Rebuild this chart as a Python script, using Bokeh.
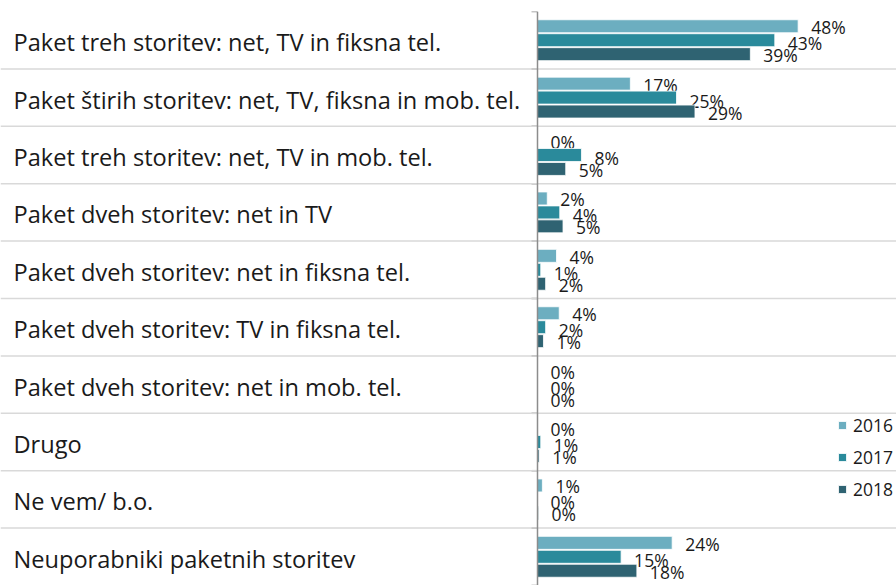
from bokeh.plotting import figure
from bokeh.models import ColumnDataSource, Range1d, FactorRange, Span, Legend, LegendItem
from bokeh.transform import dodge
from bokeh.core.properties import value
from bokeh.embed import file_html
from bokeh.resources import INLINE

categories = [
    "Paket treh storitev: net, TV in fiksna tel.",
    "Paket štirih storitev: net, TV, fiksna in mob. tel.",
    "Paket treh storitev: net, TV in mob. tel.",
    "Paket dveh storitev: net in TV",
    "Paket dveh storitev: net in fiksna tel.",
    "Paket dveh storitev: TV in fiksna tel.",
    "Paket dveh storitev: net in mob. tel.",
    "Drugo",
    "Ne vem/ b.o.",
    "Neuporabniki paketnih storitev",
]
years = ["2016", "2017", "2018"]
v2016 = [48.0, 17.1, 0.0, 1.8, 3.5, 4.0, 0.0, 0.0, 0.9, 24.8]
v2017 = [43.7, 25.6, 8.1, 4.1, 0.6, 1.5, 0.0, 0.6, 0.0, 15.4]
v2018 = [39.2, 29.0, 5.2, 4.7, 1.5, 1.1, 0.0, 0.3, 0.2, 18.3]
l2016 = ["48%", "17%", "0%", "2%", "4%", "4%", "0%", "0%", "1%", "24%"]
l2017 = ["43%", "25%", "8%", "4%", "1%", "2%", "0%", "1%", "0%", "15%"]
l2018 = ["39%", "29%", "5%", "5%", "2%", "1%", "0%", "1%", "0%", "18%"]

colors = {"2016": "#6CAEC0", "2017": "#2A8A9B", "2018": "#2F6372"}
offsets = {"2016": 0.243, "2017": 0.0, "2018": -0.243}
label_dy = {"2016": 1, "2017": 3, "2018": 1}

src = ColumnDataSource(dict(cat=categories,
                            v2016=v2016, v2017=v2017, v2018=v2018,
                            l2016=l2016, l2017=l2017, l2018=l2018))

FONT = "Open Sans"
W, H = 896, 585
px_per = 5.43
zero_x = 537
x_start = -zero_x / px_per

p = figure(width=W, height=H, output_backend="svg", toolbar_location=None,
           y_range=FactorRange(factors=list(reversed(categories)), range_padding=0),
           x_range=Range1d(x_start, (W - zero_x) / px_per),
           min_border_left=0, min_border_right=0, min_border_top=11, min_border_bottom=0)
p.outline_line_color = None
p.xaxis.visible = False
p.yaxis.visible = False
p.grid.visible = False
p.background_fill_color = "white"

# separator lines between categories
for k in range(1, len(categories)):
    p.add_layout(Span(location=k, dimension="width", line_color="#D9D9D9", line_width=1.5))

renderers = {}
for yr in years:
    r = p.hbar(y=dodge("cat", offsets[yr], range=p.y_range), right="v" + yr, left=0,
               height=0.226, source=src, fill_color=colors[yr], line_color="white",
               line_width=0.8)
    renderers[yr] = r
    p.text(x="v" + yr, y=dodge("cat", offsets[yr], range=p.y_range), text="l" + yr,
           source=src, x_offset=13, y_offset=label_dy[yr], text_baseline="middle",
           text_align="left", text_font=value(FONT), text_font_size="17.5px",
           text_color="#1a1a1a")

# axis line and ticks
p.add_layout(Span(location=0, dimension="height", line_color="#8C8C8C", line_width=1.5))
tick_y = list(range(0, len(categories) + 1))
p.segment(x0=[-6 / px_per] * len(tick_y), x1=[0] * len(tick_y), y0=tick_y, y1=tick_y,
          line_color="#8C8C8C", line_width=1.5)

# category labels
p.text(x=x_start, y="cat", text="cat", source=src,
       x_offset=13, y_offset=2, text_baseline="middle", text_align="left",
       text_font=value(FONT), text_font_size="23.6px", text_color="#1a1a1a")

legend = Legend(items=[LegendItem(label=yr, renderers=[renderers[yr]]) for yr in years],
                location=(837, 84), orientation="vertical",
                glyph_width=10, glyph_height=10, label_standoff=6, spacing=8,
                label_height=20, padding=0, margin=0,
                border_line_color=None, background_fill_alpha=0,
                label_text_font=FONT, label_text_font_size="17.5px",
                label_text_color="#1a1a1a")
p.add_layout(legend)

open("out.html", "w").write(file_html(p, INLINE))
